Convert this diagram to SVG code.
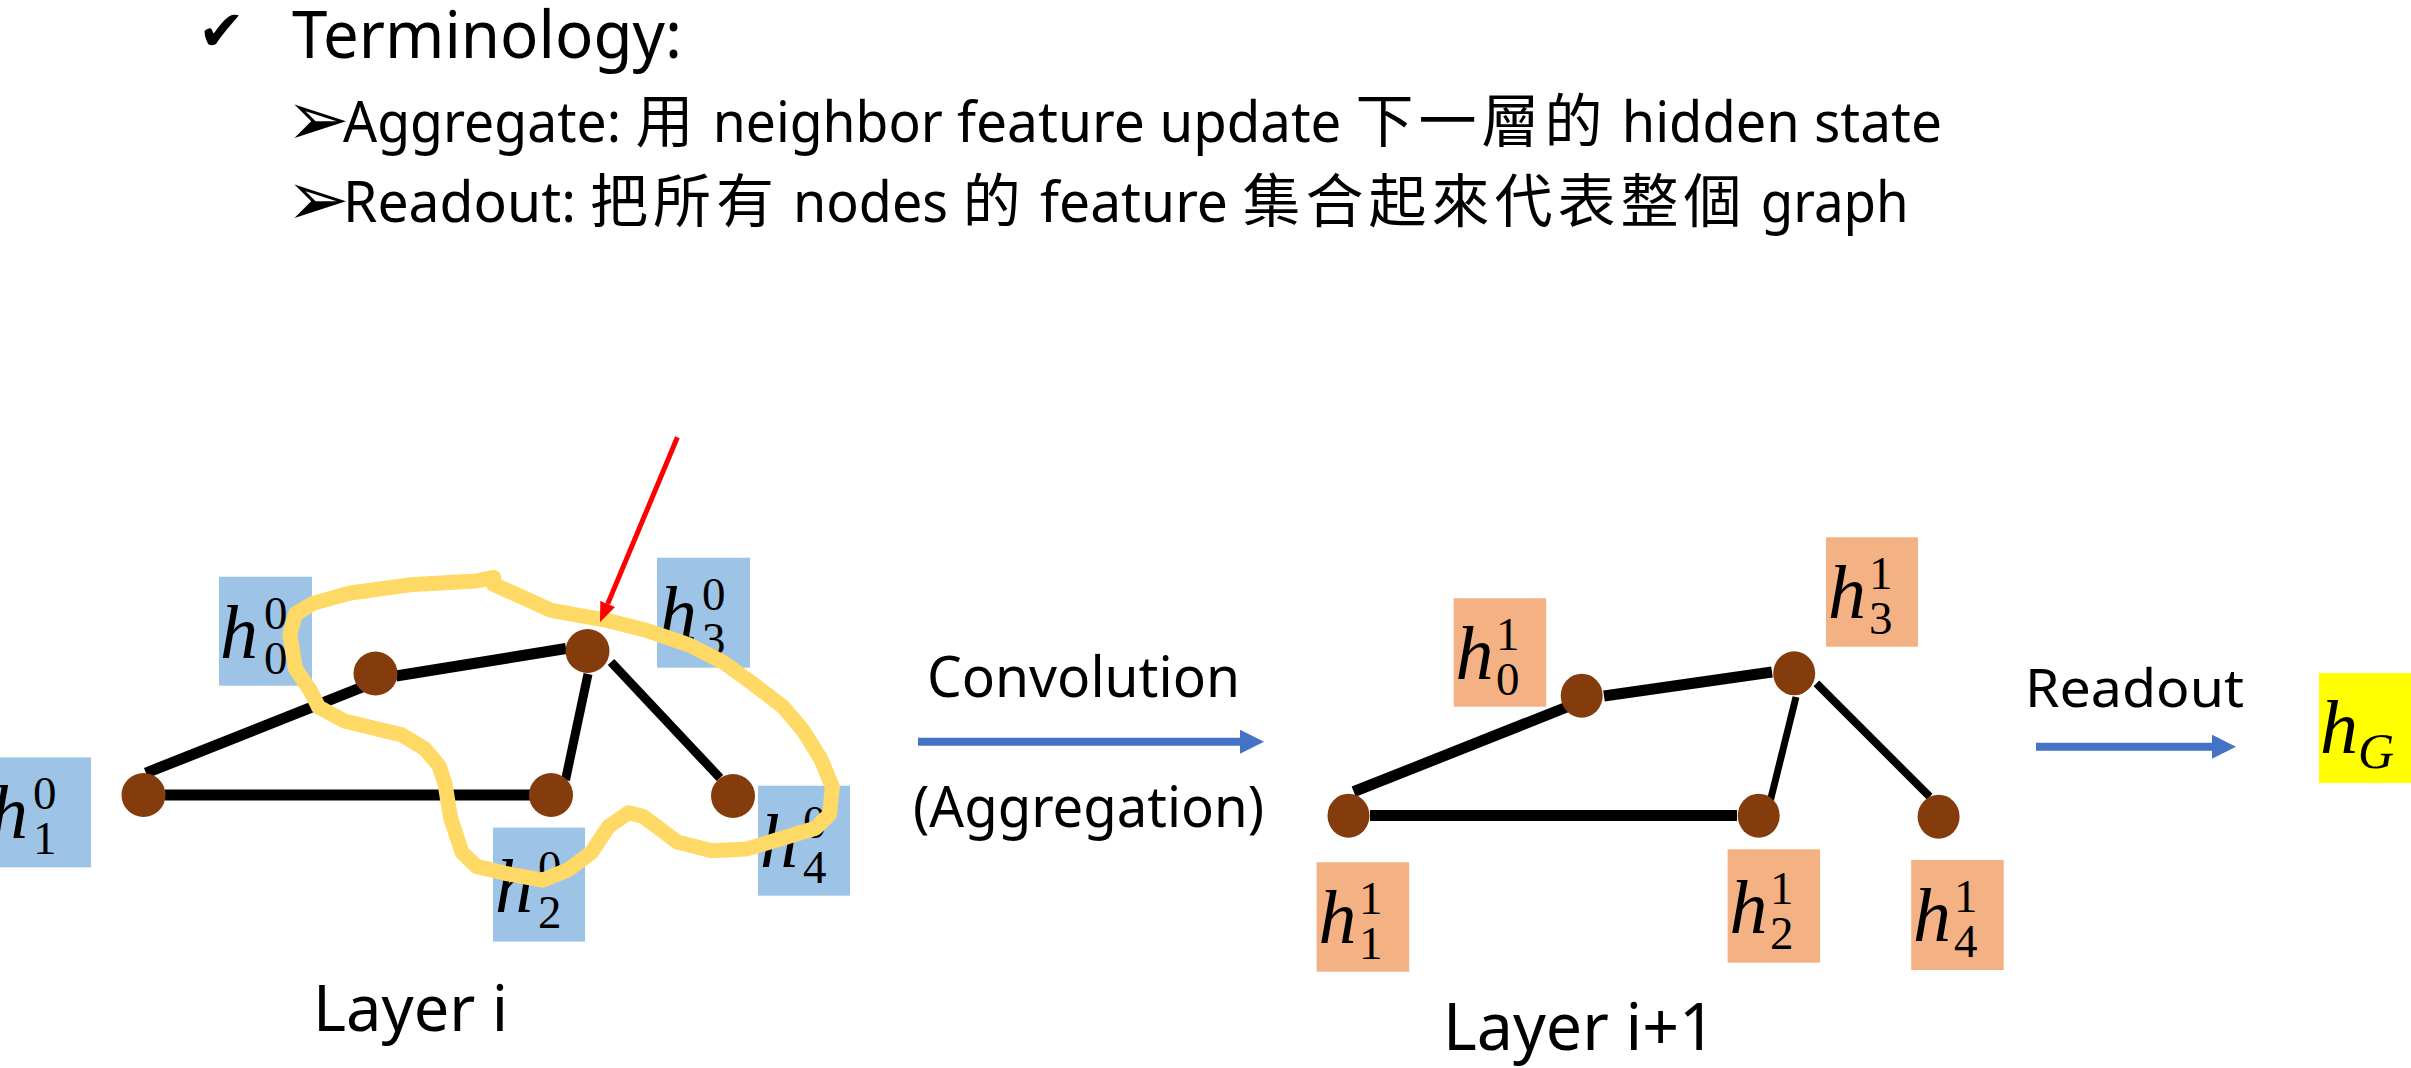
<svg xmlns="http://www.w3.org/2000/svg" width="2411" height="1068" viewBox="0 0 2411 1068">
<style>
.t{font-family:"Noto Sans","Noto Sans CJK TC",sans-serif;fill:#000}
.w{font-family:"Noto Sans","Noto Sans CJK TC",sans-serif;font-size:57px;fill:#000}
.cjk{font-family:"Noto Sans CJK TC","Noto Sans",sans-serif;font-size:58px;fill:#000}
.sym{font-family:"DejaVu Sans",sans-serif;fill:#000}
.edge{stroke:#000;stroke-width:11;fill:none}
.node{fill:#843C0C}
.b0{fill:#9DC3E6}
.b1{fill:#F4B183}
.mi{font-family:"Liberation Serif","DejaVu Serif",serif;font-style:italic;font-size:76px}
.md{font-family:"Liberation Serif","DejaVu Serif",serif;font-size:47px}
.mg{font-family:"Liberation Serif","DejaVu Serif",serif;font-style:italic;font-size:50px}
.flow{stroke:#4472C4;stroke-width:8;fill:none}
.loop{stroke:#FFD966;stroke-width:15;fill:none;stroke-linejoin:round;stroke-linecap:round}
</style>
<defs>
<marker id="ab" markerUnits="userSpaceOnUse" markerWidth="24" markerHeight="24" refX="0" refY="12" orient="auto"><path d="M0,0 L24,12 L0,24 z" fill="#4472C4"/></marker>
<marker id="ar" markerUnits="userSpaceOnUse" markerWidth="20" markerHeight="16" refX="0" refY="8" orient="auto"><path d="M0,0 L20,8 L0,16 z" fill="#FF0000"/></marker>
</defs>
<rect width="2411" height="1068" fill="#fff"/>

<g id="header">
<text class="sym" x="198" y="50" font-size="56">✔</text>
<text class="t" x="292" y="58" font-size="65" textLength="390" lengthAdjust="spacingAndGlyphs">Terminology:</text>
<g id="line-aggregate">
<text class="sym" x="286" y="145" font-size="76">➢</text>
<text class="w" x="343" y="142" textLength="278" lengthAdjust="spacingAndGlyphs">Aggregate:</text>
<text class="cjk" x="635.6" y="142">用</text>
<text class="w" x="712.8" y="142" textLength="230" lengthAdjust="spacingAndGlyphs">neighbor</text>
<text class="w" x="956.9" y="142" textLength="188" lengthAdjust="spacingAndGlyphs">feature</text>
<text class="w" x="1159.4" y="142" textLength="182" lengthAdjust="spacingAndGlyphs">update</text>
<text class="cjk" x="1355.5 1418.5 1481.5 1544.5" y="142">下一層的</text>
<text class="w" x="1621.7" y="142" textLength="178" lengthAdjust="spacingAndGlyphs">hidden</text>
<text class="w" x="1814" y="142" textLength="128" lengthAdjust="spacingAndGlyphs">state</text>
</g>
<g id="line-readout">
<text class="sym" x="286" y="225" font-size="76">➢</text>
<text class="w" x="343" y="222" textLength="233" lengthAdjust="spacingAndGlyphs">Readout:</text>
<text class="cjk" x="590 653 716" y="222">把所有</text>
<text class="w" x="793" y="222" textLength="155" lengthAdjust="spacingAndGlyphs">nodes</text>
<text class="cjk" x="962.8" y="222">的</text>
<text class="w" x="1040" y="222" textLength="188" lengthAdjust="spacingAndGlyphs">feature</text>
<text class="cjk" x="1242.5 1305.5 1368.5 1431.5 1494.5 1557.5 1620.5 1683.5" y="222">集合起來代表整個</text>
<text class="w" x="1760.7" y="222" textLength="148" lengthAdjust="spacingAndGlyphs">graph</text>
</g>
</g>

<g id="connectors">
<g id="edges-layer-i">
<line class="edge" x1="165" y1="795" x2="531" y2="795"/>
<line class="edge" x1="146" y1="773" x2="365" y2="686"/>
<line class="edge" x1="396" y1="676" x2="566" y2="648.5"/>
<line class="edge" style="stroke-width:9" x1="588" y1="674" x2="565.5" y2="780"/>
<line class="edge" style="stroke-width:9" x1="611" y1="662" x2="720" y2="778"/>
</g>
<g id="edges-layer-i1">
<line class="edge" x1="1370" y1="815.5" x2="1737" y2="815.5"/>
<line class="edge" x1="1353.7" y1="791.7" x2="1572" y2="705"/>
<line class="edge" x1="1604" y1="696" x2="1772" y2="672"/>
<line class="edge" style="stroke-width:7" x1="1796" y1="697" x2="1770.5" y2="800"/>
<line class="edge" style="stroke-width:8" x1="1816.4" y1="683.3" x2="1929.7" y2="796.7"/>
</g>
<line id="arrow-convolution" class="flow" x1="918" y1="741.7" x2="1240" y2="741.7" marker-end="url(#ab)"/>
<line id="arrow-readout" class="flow" x1="2036" y1="746.7" x2="2212" y2="746.7" marker-end="url(#ab)"/>
</g>

<g id="layer-i">
<g id="n0-h0"><rect class="b0" x="219" y="576.7" width="93" height="109"/><text><tspan class="mi" x="220" y="657.7">h</tspan><tspan class="md" x="264" y="628.7">0</tspan><tspan class="md" x="264" y="673.7">0</tspan></text><circle class="node" cx="375.5" cy="673.5" r="22"/></g>
<g id="n0-h3"><rect class="b0" x="657" y="557.7" width="93" height="110"/><text><tspan class="mi" x="659" y="638.7">h</tspan><tspan class="md" x="702" y="609.7">0</tspan><tspan class="md" x="702" y="654.7">3</tspan></text><circle class="node" cx="587.5" cy="651" r="22"/></g>
<g id="n0-h1"><rect class="b0" x="-12" y="757.4" width="103" height="110"/><text><tspan class="mi" x="-10" y="838.4">h</tspan><tspan class="md" x="33" y="809.4">0</tspan><tspan class="md" x="33" y="854.4">1</tspan></text><circle class="node" cx="143.5" cy="795" r="22"/></g>
<g id="n0-h2"><rect class="b0" x="493" y="827.6" width="92" height="114"/><text><tspan class="mi" x="495" y="911.6">h</tspan><tspan class="md" x="538" y="882.6">0</tspan><tspan class="md" x="538" y="927.6">2</tspan></text><circle class="node" cx="551" cy="795" r="22"/></g>
<g id="n0-h4"><rect class="b0" x="758" y="785.7" width="92" height="110"/><text><tspan class="mi" x="760" y="866.7">h</tspan><tspan class="md" x="803" y="837.7">0</tspan><tspan class="md" x="803" y="882.7">4</tspan></text><circle class="node" cx="733" cy="796" r="22"/></g>
</g>

<g id="layer-i1">
<g id="n1-h0"><rect class="b1" x="1453.6" y="598.3" width="92.6" height="108.4"/><text><tspan class="mi" x="1455.5" y="679.3">h</tspan><tspan class="md" x="1496" y="650.3">1</tspan><tspan class="md" x="1496" y="695.3">0</tspan></text><ellipse class="node" cx="1581.7" cy="695.7" rx="21" ry="22"/></g>
<g id="n1-h3"><rect class="b1" x="1826" y="537.3" width="92" height="109.4"/><text><tspan class="mi" x="1828" y="618.3">h</tspan><tspan class="md" x="1869" y="589.3">1</tspan><tspan class="md" x="1869" y="634.3">3</tspan></text><ellipse class="node" cx="1794.2" cy="673.3" rx="21" ry="22"/></g>
<g id="n1-h1"><rect class="b1" x="1316.6" y="862.3" width="92.6" height="109.4"/><text><tspan class="mi" x="1318.5" y="943.3">h</tspan><tspan class="md" x="1359" y="914.3">1</tspan><tspan class="md" x="1359" y="959.3">1</tspan></text><ellipse class="node" cx="1348.5" cy="815.7" rx="21" ry="22"/></g>
<g id="n1-h2"><rect class="b1" x="1727.6" y="849.3" width="92.4" height="113.4"/><text><tspan class="mi" x="1729.5" y="933.3">h</tspan><tspan class="md" x="1770" y="904.3">1</tspan><tspan class="md" x="1770" y="949.3">2</tspan></text><ellipse class="node" cx="1758.7" cy="815.7" rx="21" ry="22"/></g>
<g id="n1-h4"><rect class="b1" x="1911.2" y="860" width="92.5" height="110"/><text><tspan class="mi" x="1913" y="941">h</tspan><tspan class="md" x="1954" y="912">1</tspan><tspan class="md" x="1954" y="957">4</tspan></text><ellipse class="node" cx="1938.6" cy="816.7" rx="21" ry="22"/></g>
</g>

<g id="hG"><rect x="2319" y="673" width="92" height="110" fill="#FFFF00"/><text><tspan class="mi" x="2320" y="753">h</tspan><tspan class="mg" x="2358" y="768">G</tspan></text></g>

<g id="labels">
<text class="t" x="927" y="697" font-size="57" textLength="313" lengthAdjust="spacingAndGlyphs">Convolution</text>
<text class="t" x="913" y="827" font-size="57" textLength="351" lengthAdjust="spacingAndGlyphs">(Aggregation)</text>
<text class="t" x="2025" y="707" font-size="53" textLength="219" lengthAdjust="spacingAndGlyphs">Readout</text>
<text class="t" x="313" y="1031" font-size="63" textLength="195" lengthAdjust="spacingAndGlyphs">Layer i</text>
<text class="t" x="1443" y="1050" font-size="65" textLength="273" lengthAdjust="spacingAndGlyphs">Layer i+1</text>
</g>

<g id="highlight">
<polyline class="loop" points="493.7,577.4 476.5,580.9 413.3,584.4 350.2,593 312.9,603.4 295.6,613.8 289.9,634.5 295.6,669.1 310,689.9 318.6,707.2 344.4,721 401.8,734.9 424.8,748.7 439.2,766 444.9,783.3 450.6,817.9 462.1,852.5 476.5,866.4 505.2,873.3 542.5,880.2 568.3,869.8 591.3,852.5 608.5,826.6 628.6,812.7 642.9,816.2 677.4,842.1 711.8,850.8 746.3,849.1 780.7,838.7 815.2,828.3 829.5,814.5 832.4,786.8 820.9,759.1 803.7,731.4 783.6,707.2 752,683 723.3,662.2 688.9,644.9 648.7,631.1 608.5,620.7 551.1,610.3 516.7,594.7 493.7,584.4 493.7,577.4"/>
<line id="arrow-red" x1="677.4" y1="437.3" x2="607.7" y2="603.9" stroke="#FF0000" stroke-width="5" marker-end="url(#ar)"/>
</g>
</svg>
